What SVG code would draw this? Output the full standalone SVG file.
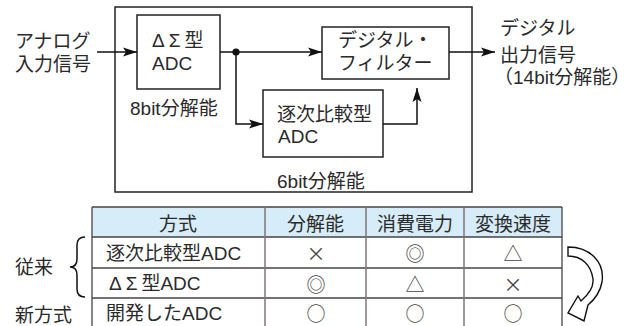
<svg xmlns="http://www.w3.org/2000/svg" width="638" height="326" viewBox="0 0 638 326">
<style>
text{font-family:"Liberation Sans","Noto Sans CJK JP",sans-serif;font-size:19px;fill:#2a2a2a}
.gr{letter-spacing:4px}
.sym{font-family:"Noto Sans CJK JP",sans-serif;font-size:19px;text-anchor:middle;dominant-baseline:central;fill:#444}
.hd{text-anchor:middle}
.box{fill:#fff;stroke:#222;stroke-width:1.5}
.ln{fill:none;stroke:#111;stroke-width:1.5}
.hl{stroke:#444;stroke-width:1.3}
.vl{stroke:#7f7676;stroke-width:1.5}
</style>
<defs>
<marker id="ah" viewBox="0 0 14 10" refX="14" refY="5" markerWidth="14" markerHeight="10" markerUnits="userSpaceOnUse" orient="auto">
<path d="M0,0.5 L14,5 L0,9.5 L3,5 Z" fill="#111"/>
</marker>
</defs>
<g id="outer"><rect class="box" x="115" y="7" width="357" height="185"/></g>
<g id="input-label">
<text x="15" y="48">アナログ</text>
<text x="15" y="71">入力信号</text>
</g>
<g id="ds-adc">
<rect class="box" x="137" y="15" width="83" height="74"/>
<text x="152" y="47"><tspan class="gr">ΔΣ</tspan>型</text>
<text x="152" y="70">ADC</text>
<text x="130" y="115">8bit分解能</text>
</g>
<g id="filter">
<rect class="box" x="322" y="27" width="127" height="52"/>
<text x="338" y="47">デジタル・</text>
<text x="338" y="70">フィルター</text>
</g>
<g id="sar-adc">
<rect class="box" x="263" y="90" width="120" height="67"/>
<text x="277" y="121">逐次比較型</text>
<text x="278" y="143">ADC</text>
<text x="277" y="188">6bit分解能</text>
</g>
<g id="output-label">
<text x="500" y="35">デジタル</text>
<text x="500" y="62">出力信号</text>
<text x="494" y="84">（14bit分解能）</text>
</g>
<g id="connectors">
<path class="ln" d="M97,52 H137" marker-end="url(#ah)"/>
<path class="ln" d="M220,52 H322" marker-end="url(#ah)"/>
<path class="ln" d="M236,52 V124 H263" marker-end="url(#ah)"/>
<path class="ln" d="M383,124 H417 V88" marker-end="url(#ah)"/>
<path class="ln" d="M449,52 H495" marker-end="url(#ah)"/>
<circle cx="236" cy="52" r="3.6" fill="#111"/>
</g>
<g id="table">
<rect x="92" y="207" width="470" height="30" fill="#d6ecf8"/>
<rect x="92" y="237" width="470" height="95" fill="#fff"/>
<line class="hl" x1="92" y1="207" x2="562" y2="207"/>
<line class="hl" x1="92" y1="237" x2="562" y2="237"/>
<line class="hl" x1="92" y1="268" x2="562" y2="268"/>
<line class="hl" x1="92" y1="298" x2="562" y2="298"/>
<line class="hl" x1="92" y1="207" x2="92" y2="326"/>
<line class="hl" x1="562" y1="207" x2="562" y2="326"/>
<line class="vl" x1="265" y1="207" x2="265" y2="326"/>
<line class="vl" x1="366" y1="207" x2="366" y2="326"/>
<line class="vl" x1="464" y1="207" x2="464" y2="326"/>
<text class="hd" x="178" y="231">方式</text>
<text class="hd" x="315.5" y="231">分解能</text>
<text class="hd" x="415" y="231">消費電力</text>
<text class="hd" x="513" y="231">変換速度</text>
<text x="106" y="260">逐次比較型ADC</text>
<text x="109" y="290"><tspan class="gr">ΔΣ</tspan>型ADC</text>
<text x="106" y="320">開発したADC</text>
<text class="sym" x="316" y="252.5">×</text>
<text class="sym" x="415" y="252.5">◎</text>
<text class="sym" x="513" y="252.5">△</text>
<text class="sym" x="316" y="283">◎</text>
<text class="sym" x="415" y="283">△</text>
<text class="sym" x="513" y="283">×</text>
<text class="sym" x="316" y="312">○</text>
<text class="sym" x="415" y="312">○</text>
<text class="sym" x="513" y="312">○</text>
</g>
<g id="brace">
<path class="ln" d="M85,237 Q77,237 77,245 V259 Q77,267 70,267 Q77,267 77,275 V289 Q77,297 85,297"/>
<text x="15" y="274">従来</text>
<text x="15" y="322">新方式</text>
</g>
<g id="curved-arrow">
<path d="M568,247 C590,247 605,262 602,282 C600,293 594,300 588,305 L584,321 L568,313 L578,296 L581,301 C588,295 594,288 593,279 C591,265 582,256 568,256 Z" fill="#fff" stroke="#111" stroke-width="1.4" stroke-linejoin="miter"/>
</g>
</svg>
